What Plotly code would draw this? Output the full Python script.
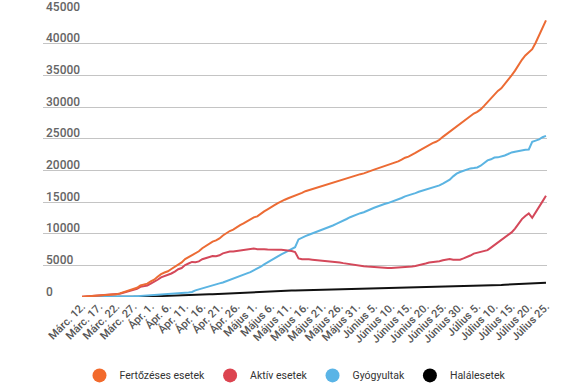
import plotly.graph_objects as go
import pandas as pd

# Daily dates, Márc. 12. – Július 25. (2020)
dates = pd.date_range("2020-03-12", "2020-07-25", freq="D")

fertozeses = [
    49, 89, 123, 131, 158, 184, 260, 277, 308, 367, 433, 576, 762, 906, 1029, 1292, 1452, 1815, 1952, 2109,
    2460, 2738, 3183, 3613, 3864, 4057, 4417, 4761, 5202, 5467, 5990, 6300, 6633, 6879, 7216, 7707, 8067, 8418, 8746, 8936,
    9242, 9710, 10096, 10417, 10635, 11036, 11339, 11616, 11978, 12240,
    12567, 12732, 13163, 13512, 13837, 14107, 14499, 14811, 15131, 15362, 15588, 15778, 16002, 16247, 16437, 16704, 16871,
    17036, 17191, 17387, 17585, 17712, 17857, 18070, 18283, 18429, 18594, 18791, 18982, 19133, 19257,
    19398, 19517, 19669, 19907, 20103, 20290, 20479, 20604, 20749, 20945, 21182, 21404, 21679, 21999, 22165, 22415, 22760,
    23080, 23400, 23730, 24045, 24291, 24505, 24826, 25286, 25697, 26130, 26582, 26970, 27296,
    27746, 28166, 28582, 28973, 29223, 29620, 30175, 30789, 31381, 32079, 32535, 32948, 33585, 34226, 35003, 35742, 36691,
    37458, 38139, 38596, 39133, 40145, 41275, 42540, 43678,
]

aktiv = [
    43, 83, 114, 122, 149, 168, 241, 258, 283, 336, 378, 504, 678, 810, 912, 1151, 1278, 1603, 1681, 1820,
    2123, 2361, 2721, 3095, 3283, 3440, 3713, 4014, 4389, 4579, 5040, 5287, 5532, 5504, 5627, 5958, 6148, 6267, 6457, 6445,
    6591, 6897, 7073, 7165, 7188, 7276, 7400, 7500, 7550, 7600,
    7650, 7550, 7600, 7550, 7500, 7450, 7500, 7450, 7450, 7400, 7300, 7250, 7100, 6100, 5950, 6000, 5950,
    5900, 5850, 5850, 5800, 5700, 5650, 5600, 5550, 5450, 5350, 5250, 5150, 5050, 4950,
    4900, 4850, 4800, 4750, 4700, 4650, 4620, 4600, 4580, 4580, 4600, 4620, 4650, 4700, 4720, 4800, 4900,
    5000, 5150, 5300, 5450, 5500, 5550, 5650, 5800, 5950, 6000, 5900, 5850, 5900,
    6100, 6300, 6550, 6850, 7000, 7100, 7250, 7400, 7800, 8200, 8600, 8900, 9300, 9700, 10200, 10800, 11600,
    12300, 12800, 13200, 12500, 13300, 14200, 15100, 16000,
]

gyogyultak = [
    6, 6, 9, 9, 9, 16, 19, 19, 25, 31, 52, 64, 73, 79, 94, 115, 137, 169, 206, 220,
    252, 283, 329, 372, 430, 460, 528, 550, 584, 640, 680, 722, 786, 1040, 1217, 1357, 1508, 1730, 1846, 2017,
    2153, 2286, 2478, 2677, 2846, 3141, 3298, 3453, 3735, 3932,
    4192, 4438, 4782, 5150, 5488, 5781, 6105, 6446, 6742, 6995, 7294, 7513, 7864, 9095, 9419, 9621, 9827,
    10025, 10219, 10400, 10630, 10851, 11034, 11286, 11539, 11769, 12024, 12314, 12597, 12837, 13054,
    13233, 13391, 13581, 13861, 14095, 14324, 14537, 14675, 14830, 15016, 15216, 15405, 15632, 15889, 16031, 16178, 16405,
    16607, 16766, 16934, 17083, 17261, 17415, 17623, 17907, 18154, 18518, 19048, 19469, 19729,
    19959, 20158, 20301, 20372, 20455, 20733, 21126, 21572, 21747, 22025, 22051, 22147, 22353, 22576, 22827, 22942, 23066,
    23109, 23265, 23295, 24507, 24694, 24888, 25231, 25438,
]

halalesetek = [
    0, 0, 0, 0, 0, 0, 0, 0, 0, 0, 3, 8, 11, 17, 23, 26, 37, 43, 65, 69,
    85, 94, 133, 146, 151, 157, 176, 197, 229, 248, 270, 291, 315, 335, 372, 392, 411, 421, 443, 474,
    498, 527, 545, 575, 601, 619, 641, 663, 693, 708,
    725, 744, 781, 812, 849, 876, 894, 915, 939, 967, 994, 1015, 1038, 1052, 1068, 1083, 1094,
    1111, 1122, 1137, 1155, 1161, 1173, 1184, 1194, 1210, 1220, 1227, 1235, 1246, 1253,
    1265, 1276, 1288, 1296, 1308, 1316, 1322, 1329, 1339, 1349, 1366, 1379, 1397, 1410, 1414, 1437, 1455,
    1473, 1484, 1496, 1512, 1530, 1540, 1553, 1579, 1593, 1612, 1634, 1651, 1667,
    1687, 1708, 1731, 1751, 1768, 1787, 1799, 1817, 1834, 1854, 1884, 1901, 1932, 1950, 1976, 2000, 2025,
    2049, 2074, 2101, 2126, 2151, 2187, 2209, 2240,
]

tick_dates = [
    "2020-03-12", "2020-03-17", "2020-03-22", "2020-03-27", "2020-04-01", "2020-04-06", "2020-04-11",
    "2020-04-16", "2020-04-21", "2020-04-26", "2020-05-01", "2020-05-06", "2020-05-11", "2020-05-16",
    "2020-05-21", "2020-05-26", "2020-05-31", "2020-06-05", "2020-06-10", "2020-06-15", "2020-06-20",
    "2020-06-25", "2020-06-30", "2020-07-05", "2020-07-10", "2020-07-15", "2020-07-20", "2020-07-25",
]
tick_labels = [
    "Márc. 12.", "Márc. 17.", "Márc. 22.", "Márc. 27.", "Ápr. 1.", "Ápr. 6.", "Ápr. 11.",
    "Ápr. 16.", "Ápr. 21.", "Ápr. 26.", "Május 1.", "Május 6.", "Május 11.", "Május 16.",
    "Május 21.", "Május 26.", "Május 31.", "Június 5.", "Június 10.", "Június 15.", "Június 20.",
    "Június 25.", "Június 30.", "Július 5.", "Július 10.", "Július 15.", "Július 20.", "Július 25.",
]
y_ticks = [0, 5000, 10000, 15000, 20000, 25000, 30000, 35000, 40000, 45000]

series = [
    ("Fertőzéses esetek", fertozeses, "#ec6b34", "#f26a2c"),
    ("Aktív esetek", aktiv, "#d4485a", "#dc4450"),
    ("Gyógyultak", gyogyultak, "#5bb4e2", "#5ab4e6"),
    ("Halálesetek", halalesetek, "#111111", "#000000"),
]

fig = go.Figure()
for name, vals, lc, mc in reversed(series):
    fig.add_trace(go.Scatter(x=dates, y=vals, mode="lines", name=name,
                             line=dict(color=lc, width=2), showlegend=False,
                             hoverinfo="skip"))
for name, vals, lc, mc in series:
    fig.add_trace(go.Scatter(x=[None], y=[None], mode="markers", name=name,
                             marker=dict(color=mc, size=14, symbol="circle")))

fig.update_layout(
    template="none",
    width=575, height=387,
    margin=dict(l=43, r=28, t=12, b=90, autoexpand=False),
    paper_bgcolor="white", plot_bgcolor="white",
    font=dict(family="Roboto", color="#555"),
    showlegend=True,
    legend=dict(orientation="h", x=0.5, xanchor="center", yref="container", y=0.03, yanchor="middle",
                font=dict(size=10.5, color="#333"), itemwidth=30, traceorder="normal"),
    xaxis=dict(
        range=["2020-02-29 15:36", "2020-07-25 07:12"],
        tickmode="array", tickvals=tick_dates, ticktext=tick_labels,
        tickangle=-45, tickfont=dict(size=11, color="#555", family="Roboto Medium, Roboto"),
        showgrid=False, zeroline=False, showline=False, ticks="", automargin=False,
    ),
    yaxis=dict(
        range=[0, 45000], tickmode="array",
        tickvals=y_ticks, ticktext=[str(v) for v in y_ticks],
        ticklabelposition="inside top", ticklabeloverflow="allow", ticklabelshift=3,
        tickfont=dict(size=12, color="#666", family="Roboto Medium, Roboto"),
        showgrid=True, gridcolor="#c4c4c4", gridwidth=1, zeroline=False, showline=False, ticks="",
        automargin=False,
    ),
)

fig.write_html("out.html", config={"displayModeBar": False},
               post_script="document.body.style.margin='0px';")
